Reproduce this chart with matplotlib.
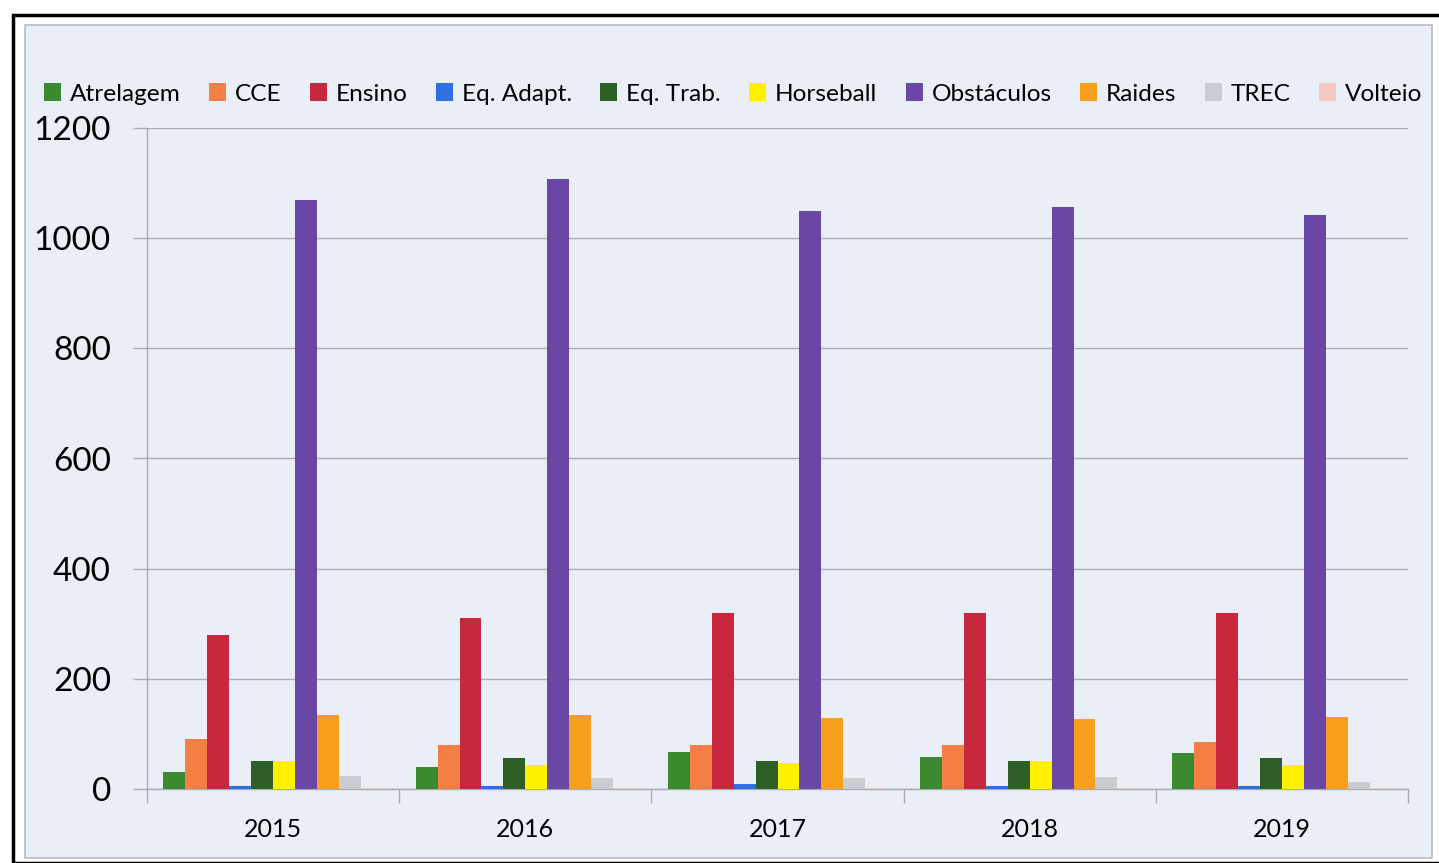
import matplotlib.pyplot as plt
import matplotlib.patches as mpatches
import numpy as np

# data
years = ['2015', '2016', '2017', '2018', '2019']
series = ['Atrelagem', 'CCE', 'Ensino', 'Eq. Adapt.', 'Eq. Trab.',
          'Horseball', 'Obstáculos', 'Raides', 'TREC', 'Volteio']
atrelagem = [30, 40, 68, 58, 65]
cce = [90, 80, 80, 80, 85]
ensino = [280, 310, 320, 320, 320]
eq_adapt = [6, 6, 9, 6, 6]
eq_trab = [51, 57, 50, 50, 56]
horseball = [50, 43, 47, 50, 43]
obstaculos = [1070, 1107, 1050, 1056, 1042]
raides = [135, 135, 128, 127, 130]
trec = [23, 20, 20, 22, 12]
volteio = [1, 1, 1, 1, 1]
values = [atrelagem, cce, ensino, eq_adapt, eq_trab,
          horseball, obstaculos, raides, trec, volteio]
colors = ['#3b8a2f', '#f47f45', '#c8283d', '#2f6fe2', '#2d5e26',
          '#fff000', '#6a47a4', '#f8a01e', '#c9ccd1', '#f8c9c2']

plt.rcParams['font.family'] = ['Lato', 'DejaVu Sans']

fig = plt.figure(figsize=(14.39, 8.63), dpi=100, facecolor='white')

# outer black frame and light chart area
W, H = 1439, 863
fig.patches.append(mpatches.Rectangle((13 / W, 0), 1.0, 1 - 15 / H, transform=fig.transFigure,
                                      facecolor='none', edgecolor='black', linewidth=2.5, zorder=-2))
fig.patches.append(mpatches.Rectangle((25 / W, 5 / H), (1432 - 25) / W, (858 - 25) / H,
                                      transform=fig.transFigure, facecolor='#e9eef7',
                                      edgecolor='#b8bcc4', linewidth=1.2, zorder=-1))

ax = fig.add_axes([147 / W, 1 - 789 / H, (1408 - 147) / W, (789 - 128) / H], zorder=2)
ax.set_facecolor('none')

x = np.arange(len(years))
w = 1 / 11.5
for i, (name, vals, c) in enumerate(zip(series, values, colors)):
    ax.bar(x + (i - 4.5) * w, vals, width=w, color=c, label=name, zorder=3)

ax.set_xlim(-0.5, len(years) - 0.5)
ax.set_ylim(0, 1200)
ax.set_yticks(range(0, 1201, 200))
ax.yaxis.grid(True, color='#a9adb3', linewidth=1.0, zorder=0)
ax.set_xticks(x)
ax.set_xticklabels(years)
ax.set_xticks(np.arange(-0.5, len(years)), minor=True)
ax.tick_params(axis='x', which='major', length=0, labelsize=18, pad=21)
ax.tick_params(axis='x', which='minor', length=10, color='#a9adb3', width=1.0)
ax.tick_params(axis='y', length=10, color='#a9adb3', width=1.0, labelsize=24, pad=16)

for s in ['top', 'right']:
    ax.spines[s].set_visible(False)
for s in ['left', 'bottom']:
    ax.spines[s].set_color('#a9adb3')
    ax.spines[s].set_linewidth(1.0)

fig.legend(loc='center', bbox_to_anchor=(733 / W, 1 - 94 / H), ncol=10, frameon=False,
           fontsize=17.6, handlelength=0.7, handleheight=0.7, handletextpad=0.35,
           columnspacing=1.17, borderaxespad=0)

fig.savefig('out.png', dpi=100, facecolor='white')
